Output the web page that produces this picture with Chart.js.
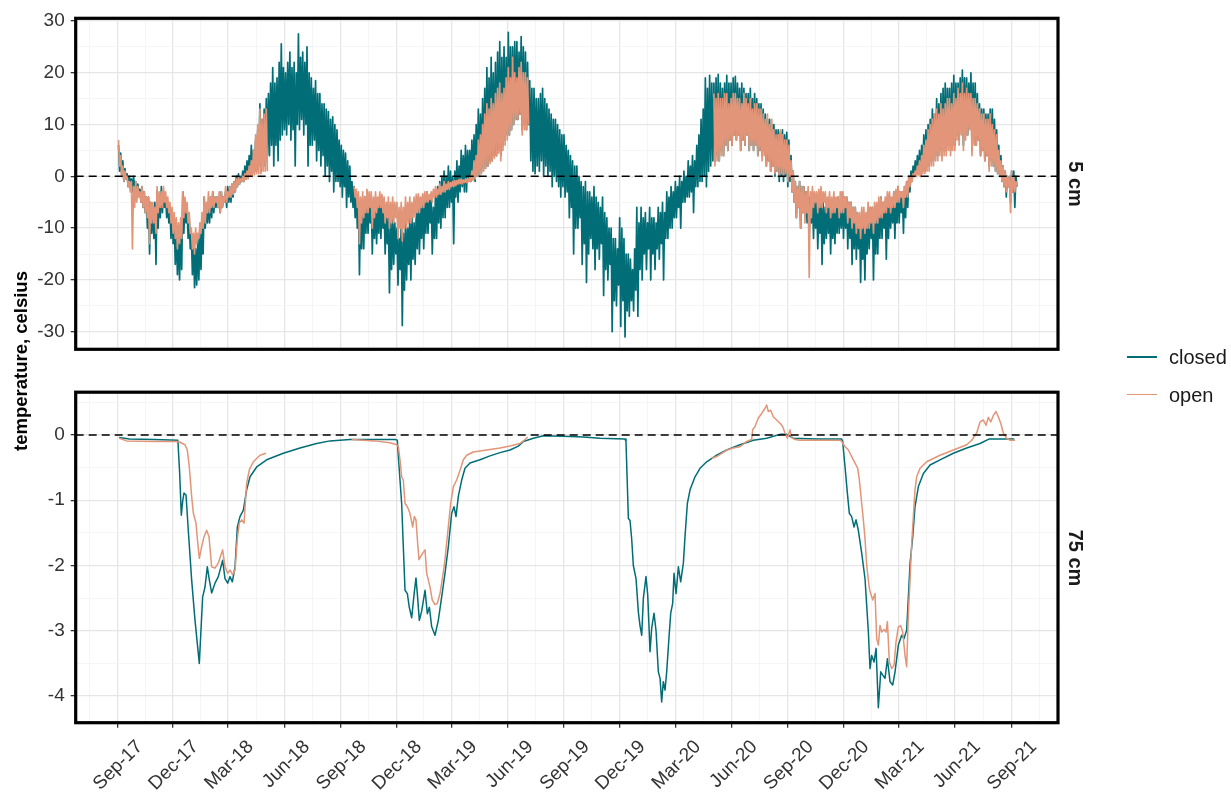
<!DOCTYPE html>
<html>
<head>
<meta charset="utf-8">
<script src="https://cdn.jsdelivr.net/npm/chart.js@4.4.1/dist/chart.umd.min.js"></script>
<style>
  html, body { margin: 0; padding: 0; background: #fff; }
  #wrap { position: relative; width: 1231px; height: 792px; overflow: hidden;
          font-family: "Liberation Sans", Arial, sans-serif; }
  #wrap canvas { position: absolute; left: 0; }
  #c5 { top: 0; }
  #c75 { top: 360px; }
  .ytitle { position: absolute; left: 21px; top: 361px; white-space: nowrap;
            font-size: 18.5px; font-weight: bold; color: #000;
            transform: translate(-50%, -50%) rotate(-90deg); }
  .strip { position: absolute; white-space: nowrap; font-size: 20px; font-weight: bold; color: #1a1a1a;
           transform: translate(-50%, -50%) rotate(90deg); }
  .key { position: absolute; left: 1127px; width: 30px; height: 1.8px; }
  .ktxt { position: absolute; left: 1169px; font-size: 20px; line-height: 24px; color: #1a1a1a; white-space: nowrap; }
</style>
</head>
<body>
<div id="wrap">
  <canvas id="c5" width="1231" height="360"></canvas>
  <canvas id="c75" width="1231" height="432"></canvas>
  <div class="ytitle">temperature, celsius</div>
  <div class="strip" style="left:1075px; top:184px;">5 cm</div>
  <div class="strip" style="left:1075px; top:557.5px;">75 cm</div>
  <div class="key" style="top:356px; background:#006d77;"></div>
  <div class="ktxt" style="top:345px;">closed</div>
  <div class="key" style="top:393.5px; background:#e29578;"></div>
  <div class="ktxt" style="top:383px;">open</div>
</div>
<script>
// ---- axis breaks (days since 1 Sep 2017) ----
const quarterDays   = [0, 91, 181, 273, 365, 456, 546, 638, 730, 821, 912, 1004, 1096, 1187, 1277, 1369, 1461];
const quarterLabels = ['Sep-17', 'Dec-17', 'Mar-18', 'Jun-18', 'Sep-18', 'Dec-18', 'Mar-19', 'Jun-19',
                       'Sep-19', 'Dec-19', 'Mar-20', 'Jun-20', 'Sep-20', 'Dec-20', 'Mar-21', 'Jun-21', 'Sep-21'];
const quarterBefore = -92;   // 1 Jun 2017
const quarterAfter  = 1552;  // 1 Dec 2021
const y5Breaks  = [-30, -20, -10, 0, 10, 20, 30];
const y75Breaks = [-4, -3, -2, -1, 0];

// ---- 5 cm depth: high / low reading of each half week, first period starts on day 2 ----
const FIRST_DAY = 2;
const PERIOD = 3.5;
const closed5Hi = [
  6,4.5, 3,1.5, 0.5,0, -0.5,0, -1,-1.5,
  -2.5,-2, -3,-4, -4,-5, -6,-5, -3,-4,
  -2,-3, -4,-5, -6,-7, -8,-10, -11,-10,
  -3,-5, -6,-8, -11,-12, -14,-12, -11,-10,
  -4,-6, -5,-4, -3,-4, -4,-5, -3,-4,
  -3,-2, -2,-1.5, -1,0, 0.5,0, 1,2,
  3,4, 6,5, 7,9, 14,11, 13,15,
  16,18, 21,18, 19,22, 25.6,21, 20,22,
  24,21, 22,20, 27.5,23, 24,22, 25,20,
  19,17, 18.5,16, 16,14, 14,13, 12.5,11,
  11.5,10, 9,7, 6,5, 4.5,3, 2,-1,
  -2,-3, -4,-5, -5,-4, -3,-4, -4,-5,
  -5,-6, -4,-5, -6,-7, -8,-9, -7,-9,
  -10,-12, -9,-11, -8,-10, -7,-8, -9,-7,
  -4,-6, -4,-5, -3,-4, -4,-6, -3,-2,
  -1,0, 1,0, 2,1, 0,1, 3,2,
  5,4, 6,5, 5,7, 8,10, 13,12,
  15,17, 21,19, 23,20, 22,24, 26,23,
  25,23, 27.8,25, 25,26, 26,24, 27,25,
  24,22, 18.5,17, 17,15, 15,16, 17,15,
  14,13, 12,11, 11,10, 9,8, 8,6,
  5,4, 3,2, 2,0, -1,-2, -1,-3,
  -3,-4, -2,-4, -5,-6, -4,-7, -8,-10,
  -10,-12, -12,-14, -8,-10, -12,-15, -15,-16,
  -18,-14, -6,-9, -6,-8, -7,-9, -6,-8,
  -8,-9, -6,-7, -5,-7, -3,-4, -2,-3,
  -1,-2, 0,-1, 1,0, 3,2, 4,3,
  6,8, 11,13, 19,17, 19.5,18, 18,19,
  19.7,18, 17,18, 19.5,18, 18,19, 19.3,18,
  17,18, 17,16, 16,17, 15,16, 15,14,
  14,13, 12,11, 11,10, 10,9, 9,8.5,
  9,8, 8.5,7, 4,1, -1,-2, -1,-2,
  -2,-3, -3,-4, -3,-4, -5,-6, -4,-5,
  -6,-5, -5,-6, -6,-5, -4,-5, -3,-4,
  -4,-5, -5,-6, -6,-7, -8,-9, -9,-8,
  -7,-6, -6,-8, -7,-5, -4,-5, -5,-4,
  -4,-5, -3,-4, -2,-3, -3,-2, -1,0,
  1,2, 3,4, 5,6, 8,9, 10,11,
  13,12, 15,14, 16,17, 18,17, 17,18,
  19.5,18, 18,19, 20.5,19, 19,18, 20,18,
  18,16, 14,13, 13,12, 12,13, 13,11,
  9,6, 4,2, 1,0, 0,1, 1,0
];
const closed5Lo = [
  1,0, -1,-0.5, -2,-1, -3,-2, -4,-3,
  -5,-6, -7,-10, -15,-11, -12,-17, -10,-8,
  -7,-6, -8,-9, -12,-13, -17,-19, -20,-18,
  -11,-9, -12,-14, -19,-21.5, -21,-20, -18,-15,
  -10,-9, -9,-8, -7,-6, -6,-7, -6,-5,
  -6,-5, -5,-4, -3,-2, -1.5,-1, -1,-0.5,
  0,0.5, 0.5,1, 1,2, 1,3, 2,4,
  4,6, 2,6, 3,7, 8,9, 8,10,
  7,9, 2,10, 9,11, 8,10, 2,6,
  6,7, 3,5, 2,4, 0,2, -1,1,
  -3,-1, -1,-2, -4,-2, -6,-4, -5,-6,
  -8,-10, -19,-14, -14,-11, -11,-9, -15,-12,
  -13,-11, -12,-10, -15,-13, -22.5,-18, -17,-15,
  -21,-18, -28.8,-22, -20,-17, -20,-16, -17,-14,
  -15,-12, -14,-11, -11,-9, -15,-12, -12,-9,
  -10,-8, -8,-6, -6,-5, -13,-4, -5,-3,
  -2,-3, -3,-1, -1,0, -1,0, 0,1,
  1.5,2, 2,3, 3,4, 4,5, 4,6,
  7,8, 8,9, 10,11, 11,12, 9,10,
  9,10, 3,1, 0.5,2, 1,3, 0,2,
  0,1, -2,0, -1,-2, -4,-2, -4,-3,
  -8,-6, -15,-10, -10,-8, -17,-13, -20.5,-15,
  -12,-14, -18,-14, -16,-13, -23,-18, -20,-17,
  -30,-24, -25,-21, -29,-24, -31,-26, -27,-24,
  -26,-22, -27,-18, -20,-15, -18,-14, -20,-15,
  -18,-14, -16,-13, -20,-12, -12,-10, -10,-8,
  -8,-6, -10,-5, -5,-4, -4,-3, -7,-2,
  -2,-1, -1,0, -2,1, 2,3, 3,4,
  3,5, 4,6, 5,7, 6,8, 7,8,
  5,7, 6,8, 5,6, 5,6, 4,5,
  4,5, 2,3, 1,2, 0,1, -1,0,
  -1,0, -2,-1, -3,-5, -8,-6, -10,-7,
  -8,-9, -11,-9, -12,-10, -14,-11, -17,-13,
  -12,-11, -15,-12, -13,-11, -11,-10, -12,-10,
  -14,-12, -17,-14, -16,-14, -20.5,-16, -20,-15,
  -14,-12, -20,-15, -15,-12, -12,-10, -16,-12,
  -10,-9, -12,-9, -9,-7, -11,-8, -6,-3,
  -1,0, 0,0.5, 0,1, 1,2, 2,3,
  3,4, 4,5, 4,5, 5,6, 5,6,
  6,8, 7,9, 6,8, 8,10, 5,7,
  6,7, 4,5, 3,4, 2,3, 2,1,
  0.5,0, -1,-2, -4,-2, -5,-3, -6,-2
];
// null marks periods without a logger record
const open5Hi = [
  7,4, 2,1, 0,-1, -1,-2, -1,-2,
  -3,-2, -3,-4, -4,-5, -5,-6, -2,-3,
  -3,-2, -3,-4, -5,-6, -7,-8, -9,-8,
  -3,-4, -5,-7, -10,-11, -10,-11, -9,-7,
  -4,-5, -3,-4, -3,-4, -4,-3, -3,-4,
  -2,-3, -2,-1.5, -1,-0.5, 0,-0.5, 0,0.5,
  1,2, 3,5, 8,10, 13,11, 12,13,
  ...Array(40).fill(null),
  -2,-2.5, -3,-4, -3,-4, -2.5,-3, -3,-4,
  -3,-4, -3,-3.5, -4,-5, -4,-5, -4,-5,
  -5,-6, -5,-6, -4,-5, -4,-5, -4,-3.5,
  -3.4,-4, -3.4,-3, -3,-3.5, -3,-2.5, -2,-2.5,
  -1.5,-2, -1,-1.5, -1,-1.2, -1,-0.8, -0.8,-0.6,
  -0.5,-0.7, -0.5,-0.4, -0.3,1, 3,4, 7,8,
  10,12, 14,13, 15,14, 16,17, 18,16,
  17,19, 21,19, 23,20, 19,21, 22,20,
  20,19,
  ...Array(86).fill(null),
  16,15,
  16,15, 15,16, 16,14, 15,16, 16,15,
  15,14, 16,15, 14,15, 13,14, 14,13,
  13,12, 11,12, 10,11, 9,8, 8,9,
  8,7, 7,6, 3,1, -1,-2, -1,-2,
  -2,-3, -2,-3, -2,-3, -3,-2.5, -2,-3,
  -3,-4, -3,-4, -3,-4, -4,-3, -3,-4,
  -4,-5, -5,-6, -6,-7, -7,-6, -6,-7,
  -5,-6, -6,-5, -5,-4, -4,-5, -4,-3,
  -3,-4, -3,-2.5, -2,-3, -3,-2, -1,0,
  0,0.5, 1,2, 3,4, 6,7, 9,10,
  11,12, 13,12, 14,13, 14,15, 15,14,
  16,15, 17,16, 18,16, 17,16, 16,15,
  15,14, 13,12, 12,11, 11,12, 10,9,
  8,5, 3,2, 1,0, 0,1, 0,-1
];
const open5Lo = [
  2,0, -1,-0.5, -2,-3, -14,-6, -5,-4,
  -5,-6, -7,-8, -13,-9, -9,-11, -7,-6,
  -6,-5, -6,-7, -9,-11, -12,-14, -13,-12,
  -8,-7, -9,-11, -14,-15, -13,-12, -11,-10,
  -9,-7, -7,-6, -6,-5, -6,-7, -6,-5,
  -5,-4, -4,-3.5, -3,-2, -1.5,-1, -1,-0.5,
  -0.5,0, 0,0.3, 0.5,0.5, 0.5,1, 1,1,
  ...Array(40).fill(null),
  -4,-6, -13,-9, -8,-7, -7,-6, -10,-8,
  -7,-6, -6,-7, -9,-8, -10,-9, -9,-8,
  -12,-10, -12.5,-10, -10,-9, -9,-8, -8,-7,
  -7,-6, -6,-5, -5,-4.5, -5,-4, -4,-3.5,
  -3.5,-3, -3,-2.5, -2.5,-2, -2,-1.8, -1.5,-1.4,
  -1.4,-1.2, -1.2,-1, -1,-0.8, -0.5,0, 0,0.5,
  1,1.5, 2,2.5, 3,3.5, 4,4.5, 3,5,
  6,7, 8,9, 10,11, 11,12, 8,9,
  9,10,
  ...Array(86).fill(null),
  2,3,
  3,4, 4,6, 5,7, 6,8, 7,8,
  5,7, 6,8, 5,6, 5,6, 4,5,
  3,4, 2,3, 1,2, 0.5,1, 0,0.5,
  0,0.5, -1,0, -3,-5, -8,-6, -10,-7,
  -9,-7, -19.5,-8, -6,-5, -7,-6, -6,-5,
  -7,-6, -8,-7, -7,-6, -8,-7, -7,-6,
  -9,-8, -10,-9, -11,-10, -12,-10, -11,-10,
  -10,-9, -11,-9, -9,-8, -8,-7, -7,-6,
  -7,-6, -6,-5, -5,-4, -6,-4, -4,-2,
  -1,0, 0,0.3, 0,0.5, 0.5,1, 1,2,
  2,3, 3,4, 3,4, 4,5, 4,5,
  5,7, 6,8, 5,7, 8,9, 4,6,
  6,7, 4,5, 3,4, 1,2, 2,1,
  0.5,0, -1,-2, -3,-2, -7,-3, -3,-2
];

// ---- 75 cm depth: [day, temperature] ----
const closed75 = [
  [3,-0.04],[20,-0.06],[60,-0.07],[99,-0.08],[102,-0.6],[104.6,-1.23],[107,-1.0],[109,-0.89],[112.3,-0.92],
  [116,-1.46],[121.5,-2.22],[127,-2.84],[134,-3.5],[139.5,-2.48],[143.3,-2.33],[147.1,-2.02],[150.4,-2.22],
  [154.2,-2.42],[159.7,-2.27],[165.1,-2.17],[172.2,-1.92],[176,-2.2],[180.4,-2.27],[184.2,-2.17],[188,-2.25],
  [192.4,-2.02],[196.2,-1.41],[200.5,-1.25],[206,-1.15],[211.4,-0.84],[216.9,-0.64],[227.8,-0.49],[244.1,-0.38],
  [271.3,-0.28],[298.6,-0.2],[325.8,-0.13],[347.6,-0.09],[380,-0.07],[420,-0.07],[455,-0.07],[457.6,-0.08],
  [459.3,-0.33],[462,-0.69],[464.7,-1.05],[467.4,-1.71],[470.2,-2.38],[474,-2.43],[477.2,-2.64],[481.1,-2.8],
  [484.9,-2.45],[488.1,-2.19],[490.3,-2.43],[493.6,-2.84],[497.4,-2.7],[502.9,-2.38],[506.7,-2.74],[510,-2.64],
  [513.8,-2.94],[519.2,-3.07],[524.6,-2.84],[530.1,-2.48],[535.5,-2.12],[541,-1.71],[546.4,-1.2],[550.3,-1.1],
  [553.5,-1.25],[557.3,-0.94],[562.8,-0.69],[568.2,-0.51],[576.4,-0.43],[592.7,-0.38],[609.1,-0.32],[625.4,-0.27],
  [641.8,-0.23],[655.4,-0.17],[663.6,-0.1],[679.9,-0.05],[696.3,-0.01],[729,-0.02],[761.6,-0.03],[788.9,-0.05],
  [829.7,-0.06],[831.3,-0.1],[832.4,-0.43],[835.2,-1.28],[837.9,-1.31],[840.6,-1.59],[843.3,-2.0],[847.7,-2.2],
  [851.5,-2.71],[854.2,-2.92],[857,-3.07],[859.7,-2.5],[864,-2.17],[866.8,-2.45],[870.6,-3.32],[873.3,-2.96],
  [877.1,-2.73],[880.4,-3.0],[884.2,-3.63],[887,-3.73],[889.6,-4.09],[892.3,-3.78],[895.1,-3.91],[897.8,-3.63],
  [901.6,-3.1],[904.4,-2.73],[907.6,-2.58],[909.8,-2.12],[913.1,-2.43],[916.9,-2.02],[920.7,-2.25],[925.1,-1.96],
  [927.8,-1.55],[931.6,-1.05],[936,-0.84],[944.1,-0.64],[952.3,-0.51],[963.2,-0.41],[979.5,-0.31],[995.9,-0.23],
  [1017.6,-0.15],[1039.4,-0.08],[1061.2,-0.05],[1083,0.01],[1093.9,0.01],[1104.8,-0.05],[1142.9,-0.06],
  [1183.8,-0.06],[1185.4,-0.1],[1189.3,-0.49],[1193.1,-0.89],[1196.3,-1.2],[1200.1,-1.25],[1204,-1.41],
  [1207.2,-1.3],[1211,-1.46],[1216.5,-1.81],[1221.9,-2.2],[1227.4,-3.02],[1230.1,-3.58],[1232.8,-3.38],
  [1236.7,-3.48],[1240,-3.27],[1243.7,-4.18],[1247.6,-3.63],[1250.9,-3.68],[1254.6,-3.73],[1258.5,-3.43],
  [1262.8,-3.78],[1267.2,-3.83],[1271,-3.63],[1276.4,-3.22],[1281.9,-3.07],[1285.7,-3.12],[1290,-2.99],
  [1292.8,-2.48],[1295.5,-1.97],[1299.9,-1.56],[1303.6,-1.1],[1309.1,-0.79],[1317.3,-0.59],[1328.2,-0.46],
  [1344.5,-0.38],[1366.3,-0.28],[1388.1,-0.2],[1409.9,-0.13],[1425.2,-0.06],[1466,-0.06]
];
const open75 = [
  [3.3,-0.05],[15.3,-0.09],[60,-0.1],[100,-0.1],[110.6,-0.15],[114.4,-0.23],[117.7,-0.49],[121.5,-0.94],
  [124.3,-1.2],[128.6,-1.35],[130.8,-1.59],[134,-1.89],[137.9,-1.71],[141.7,-1.56],[146,-1.46],[149.9,-1.56],
  [154.2,-2.02],[159.7,-2.04],[165.1,-1.96],[172.2,-1.76],[176,-2.02],[180.4,-2.12],[184.2,-2.07],[188.5,-2.14],
  [192.4,-2.07],[196.2,-1.59],[199.4,-1.35],[203.3,-1.3],[207.1,-1.35],[211.4,-0.74],[215.8,-0.53],[222.3,-0.41],
  [233.2,-0.31],[243,-0.28],
  [300,null],
  [383,-0.07],[420,-0.09],[445.7,-0.12],[456.6,-0.15],[459.3,-0.18],[462,-0.38],[464.7,-0.64],[467.4,-0.69],
  [470.2,-1.05],[474,-1.1],[478.3,-1.2],[482.7,-1.41],[485.4,-1.25],[488.1,-1.3],[490.3,-1.59],[493,-1.91],
  [495.8,-1.86],[499.1,-1.81],[502.9,-1.76],[505.6,-2.12],[508.3,-2.22],[511,-2.33],[514.8,-2.53],[519.2,-2.6],
  [523,-2.58],[527.4,-2.43],[531.7,-2.17],[535.5,-1.91],[539.9,-1.5],[544.8,-1.05],[549.2,-0.79],[554.6,-0.69],
  [560.1,-0.54],[565.5,-0.38],[571,-0.31],[581.8,-0.26],[603.6,-0.23],[625.4,-0.2],[641.8,-0.17],[658.1,-0.13],
  [666.3,-0.07],[670.6,-0.03],
  [800,null],
  [971.4,-0.36],[979.5,-0.33],[995.9,-0.23],[1006.7,-0.2],[1017.6,-0.18],[1028.5,-0.1],[1036.7,-0.07],
  [1038.3,0.08],[1042.2,0.13],[1047.6,0.26],[1053.1,0.33],[1058.5,0.41],[1061.2,0.46],[1063.9,0.36],
  [1067.7,0.38],[1072.1,0.28],[1077.5,0.23],[1083,0.18],[1087.3,0.13],[1091.2,0.03],[1095,-0.05],[1099.4,0.08],
  [1102.1,-0.04],[1107.5,-0.07],[1115.7,-0.08],[1181.1,-0.08],[1183.8,-0.1],[1189.3,-0.18],[1194.7,-0.23],
  [1200.1,-0.33],[1205.6,-0.43],[1210,-0.51],[1212.7,-0.69],[1216.5,-1.05],[1219.2,-1.3],[1221.9,-1.59],
  [1224.7,-2.0],[1229,-2.35],[1231.2,-2.43],[1234.5,-2.53],[1238.3,-2.43],[1241,-3.12],[1243.7,-3.22],
  [1246.4,-2.92],[1249.2,-3.02],[1253,-2.98],[1256.2,-3.02],[1258.5,-2.86],[1261.7,-3.48],[1265.5,-3.58],
  [1269.3,-3.53],[1272.6,-3.17],[1276.4,-2.94],[1280.2,-2.92],[1283.5,-3.02],[1287.3,-3.38],[1290,-3.55],
  [1292.8,-2.73],[1295.5,-2.22],[1298.2,-1.66],[1300.9,-1.25],[1303.6,-0.84],[1306.4,-0.64],[1311.8,-0.51],
  [1322.7,-0.41],[1344.5,-0.31],[1366.3,-0.23],[1388.1,-0.15],[1396.3,-0.08],[1404.4,0.03],[1409.9,0.2],
  [1415.3,0.23],[1419.7,0.15],[1423.5,0.27],[1427.3,0.2],[1431.7,0.3],[1436,0.36],[1439.8,0.28],[1443.7,0.18],
  [1448,0.03],[1453.4,-0.05],[1458.9,-0.08],[1467.1,-0.08]
];

// ---- styling ----
const FONT = '"Liberation Sans", Arial, sans-serif';
const TEAL = '#006d77';
const SALMON = '#e29578';
const GRID_MAJOR = '#e6e6e6';
const GRID_MINOR = '#f3f3f3';
const TICK_COLOR = '#333333';
const X_MIN = -67.98, X_MAX = 1537.3;

// major breaks plus the minor breaks half way between them
function breaksWithMinors(majors, before, after, lo, hi) {
  const all = [before, ...majors, after];
  const out = majors.map(v => ({ value: v, minor: false }));
  for (let i = 0; i < all.length - 1; i++) {
    out.push({ value: (all[i] + all[i + 1]) / 2, minor: true });
  }
  return out.filter(t => t.value >= lo && t.value <= hi).sort((a, b) => a.value - b.value);
}
const xBreaks = breaksWithMinors(quarterDays, quarterBefore, quarterAfter, X_MIN, X_MAX);
const xLabelOf = new Map(quarterDays.map((d, i) => [d, quarterLabels[i]]));

const isMinor = c => !!(c.tick && c.tick.minor);
const gridOpts = (withTicks) => ({
  color: c => isMinor(c) ? GRID_MINOR : GRID_MAJOR,
  lineWidth: c => isMinor(c) ? 0.8 : 1.3,
  drawTicks: withTicks,
  tickLength: 5,
  tickWidth: 1.3,
  tickColor: c => isMinor(c) ? 'rgba(0,0,0,0)' : TICK_COLOR
});

function xScale(withLabels, axisHeight) {
  return {
    type: 'linear', min: X_MIN, max: X_MAX,
    afterBuildTicks: s => { s.ticks = xBreaks.map(t => ({ value: t.value, minor: t.minor })); },
    afterFit: s => { s.height = axisHeight; s.paddingLeft = 0; s.paddingRight = 0; },
    grid: gridOpts(withLabels),
    border: { display: false },
    ticks: {
      display: withLabels, autoSkip: false, minRotation: 45, maxRotation: 45,
      padding: 8, labelOffset: 22.5, color: TICK_COLOR,
      font: { family: FONT, size: 19 },
      callback: v => xLabelOf.has(v) ? xLabelOf.get(v) : ''
    }
  };
}

function yScale(min, max, majors, step) {
  const breaks = breaksWithMinors(majors, majors[0] - step, majors[majors.length - 1] + step, min, max);
  const majorSet = new Set(majors);
  return {
    type: 'linear', min, max,
    afterBuildTicks: s => { s.ticks = breaks.map(t => ({ value: t.value, minor: t.minor })); },
    afterFit: s => { s.width = 75.7; s.paddingTop = 0; s.paddingBottom = 0; },
    grid: gridOpts(true),
    border: { display: false },
    ticks: {
      autoSkip: false, padding: 6, color: TICK_COLOR,
      font: { family: FONT, size: 19 },
      callback: v => majorSet.has(v) ? String(v) : ''
    }
  };
}

// panel frame and the dashed zero reference line
const panelDecor = {
  id: 'panelDecor',
  afterDatasetsDraw(chart) {
    const { ctx, chartArea: a, scales: { y } } = chart;
    const y0 = y.getPixelForValue(0);
    ctx.save();
    ctx.beginPath();
    ctx.rect(a.left, a.top, a.right - a.left, a.bottom - a.top);
    ctx.clip();
    ctx.setLineDash([8, 5]);
    ctx.lineWidth = 1.5;
    ctx.strokeStyle = '#000';
    ctx.beginPath();
    ctx.moveTo(a.left, y0);
    ctx.lineTo(a.right, y0);
    ctx.stroke();
    ctx.restore();
  },
  afterDraw(chart) {
    const { ctx, chartArea: a } = chart;
    ctx.save();
    ctx.lineWidth = 3.2;
    ctx.strokeStyle = '#000';
    ctx.strokeRect(a.left, a.top, a.right - a.left, a.bottom - a.top);
    ctx.restore();
  }
};

// each period contributes its high then its low, as one continuous trace
function rangeTrace(hi, lo) {
  const pts = [];
  hi.forEach((h, i) => {
    const d = FIRST_DAY + PERIOD * i;
    pts.push({ x: d, y: h });
    pts.push({ x: d + PERIOD / 2, y: lo[i] });
  });
  return pts;
}
const toPoints = rows => rows.map(r => ({ x: r[0], y: r[1] }));

const lineStyle = (color, order, width) => ({
  borderColor: color, backgroundColor: color, borderWidth: width,
  pointRadius: 0, pointHoverRadius: 0, tension: 0, spanGaps: false,
  borderJoinStyle: 'round', fill: false, order
});

const baseOptions = (padding, scales) => ({
  responsive: false, animation: false, events: [],
  layout: { padding },
  plugins: { legend: { display: false }, tooltip: { enabled: false } },
  scales
});

new Chart(document.getElementById('c5'), {
  type: 'line',
  data: {
    datasets: [
      { label: 'closed', data: rangeTrace(closed5Hi, closed5Lo), ...lineStyle(TEAL, 1, 1.7) },
      { label: 'open', data: rangeTrace(open5Hi, open5Lo), ...lineStyle(SALMON, 0, 1.7) }
    ]
  },
  options: baseOptions(
    { left: 0, right: 173, top: 18.3, bottom: 10.7 },
    { x: xScale(false, 0), y: yScale(-33.40, 30.52, y5Breaks, 10) }
  ),
  plugins: [panelDecor]
});

new Chart(document.getElementById('c75'), {
  type: 'line',
  data: {
    datasets: [
      { label: 'closed', data: toPoints(closed75), ...lineStyle(TEAL, 1, 1.5) },
      { label: 'open', data: toPoints(open75), ...lineStyle(SALMON, 0, 1.5) }
    ]
  },
  options: baseOptions(
    { left: 0, right: 173, top: 32.2, bottom: 0 },
    { x: xScale(true, 69.3), y: yScale(-4.409, 0.656, y75Breaks, 1) }
  ),
  plugins: [panelDecor]
});
</script>
</body>
</html>
